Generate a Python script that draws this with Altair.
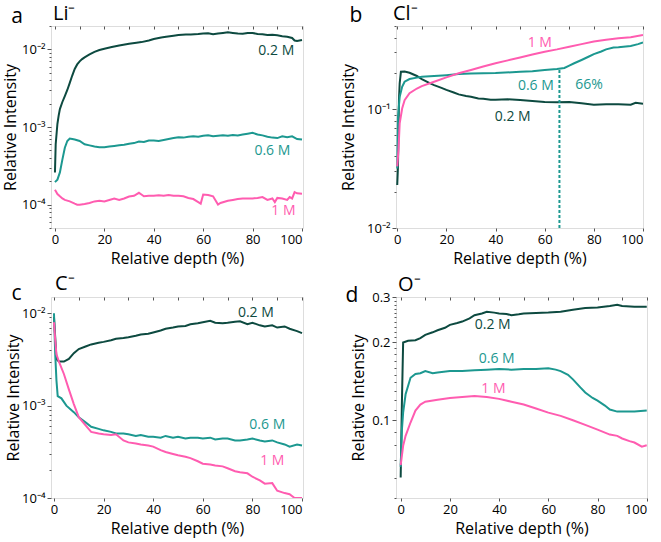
import altair as alt
import pandas as pd

DARK = "#0d4a40"
TEAL = "#1c9890"
PINK = "#ff5cb0"
FONT = "Open Sans"
SERIES = ["0.2 M", "0.6 M", "1 M"]
COLORS = [DARK, TEAL, PINK]

# ---------------- panel a: Li- ----------------
li_x_02 = [0, 0.3, 0.7, 1, 1.5, 2, 3, 4, 5, 6, 7, 8, 9, 10, 11, 12, 14, 16, 18, 20, 23, 26, 30, 33, 35, 38, 40, 43, 45, 48, 50, 53, 55, 58, 60, 62, 64, 66, 68, 70, 72, 74, 76, 78, 80, 82, 84, 86, 88, 90, 92, 94, 96, 97, 98, 100]
li_y_02 = [2.6e-4, 6e-4, 8.5e-4, 1.1e-3, 1.4e-3, 1.7e-3, 2.1e-3, 2.5e-3, 3.0e-3, 3.7e-3, 4.6e-3, 5.6e-3, 6.4e-3, 7.0e-3, 7.5e-3, 7.9e-3, 8.6e-3, 9.3e-3, 9.8e-3, 1.02e-2, 1.07e-2, 1.12e-2, 1.18e-2, 1.22e-2, 1.24e-2, 1.3e-2, 1.36e-2, 1.42e-2, 1.45e-2, 1.5e-2, 1.53e-2, 1.55e-2, 1.56e-2, 1.58e-2, 1.6e-2, 1.61e-2, 1.57e-2, 1.6e-2, 1.63e-2, 1.66e-2, 1.63e-2, 1.6e-2, 1.59e-2, 1.62e-2, 1.63e-2, 1.58e-2, 1.57e-2, 1.53e-2, 1.54e-2, 1.52e-2, 1.48e-2, 1.45e-2, 1.4e-2, 1.3e-2, 1.28e-2, 1.32e-2]
li_x_06 = [0, 1, 2, 3, 4, 5, 6, 7, 8, 10, 12, 14, 16, 18, 20, 22, 24, 26, 28, 30, 32, 34, 36, 38, 40, 42, 44, 46, 48, 50, 52, 54, 56, 58, 60, 62, 64, 66, 68, 70, 72, 74, 76, 78, 80, 82, 84, 86, 88, 90, 92, 94, 96, 98, 100]
li_y_06 = [1.95e-4, 2.1e-4, 2.6e-4, 3.8e-4, 5.4e-4, 6.6e-4, 7.1e-4, 7.0e-4, 6.9e-4, 6.6e-4, 6.0e-4, 5.8e-4, 5.6e-4, 5.5e-4, 5.5e-4, 5.6e-4, 5.7e-4, 5.8e-4, 5.9e-4, 6.1e-4, 6.2e-4, 6.5e-4, 6.4e-4, 6.7e-4, 6.7e-4, 6.6e-4, 6.8e-4, 7.0e-4, 7.2e-4, 7.4e-4, 7.3e-4, 7.5e-4, 7.6e-4, 7.5e-4, 7.7e-4, 7.8e-4, 7.6e-4, 7.7e-4, 7.8e-4, 7.7e-4, 7.9e-4, 7.8e-4, 8.0e-4, 8.2e-4, 8.4e-4, 8.0e-4, 7.8e-4, 7.5e-4, 7.3e-4, 7.2e-4, 7.6e-4, 7.4e-4, 7.6e-4, 7.0e-4, 6.9e-4]
li_x_1 = [0, 1, 2, 3, 4, 6, 8, 9, 10, 12, 14, 16, 18, 20, 22, 24, 26, 28, 30, 32, 34, 35, 36, 38, 40, 42, 44, 46, 48, 50, 52, 54, 56, 58, 59, 60, 62, 64, 66, 67, 70, 72, 74, 76, 78, 80, 82, 84, 86, 88, 89, 90, 92, 94, 95, 96, 97, 98, 100]
li_y_1 = [1.55e-4, 1.37e-4, 1.28e-4, 1.2e-4, 1.15e-4, 1.1e-4, 1.03e-4, 1.0e-4, 1.0e-4, 1.02e-4, 1.05e-4, 1.1e-4, 1.12e-4, 1.1e-4, 1.15e-4, 1.2e-4, 1.15e-4, 1.2e-4, 1.27e-4, 1.3e-4, 1.42e-4, 1.35e-4, 1.28e-4, 1.3e-4, 1.3e-4, 1.32e-4, 1.3e-4, 1.33e-4, 1.3e-4, 1.3e-4, 1.28e-4, 1.22e-4, 1.18e-4, 1.08e-4, 1.03e-4, 1.35e-4, 1.33e-4, 1.28e-4, 1.0e-4, 1.05e-4, 1.12e-4, 1.15e-4, 1.18e-4, 1.2e-4, 1.2e-4, 1.2e-4, 1.22e-4, 1.25e-4, 1.15e-4, 1.2e-4, 1.08e-4, 1.22e-4, 1.2e-4, 1.15e-4, 1.25e-4, 1.2e-4, 1.45e-4, 1.4e-4, 1.38e-4]
li_labels = ["0.2 M", "0.6 M", "1 M"]
li_lab_x = [89.6, 88, 92.5]
li_lab_y = [0.0096, 4.9e-4, 8.3e-5]

# ---------------- panel b: Cl- ----------------
cl_x_02 = [0, 0.3, 0.7, 1, 1.5, 3, 5, 8, 10, 13, 15, 18, 20, 23, 25, 28, 30, 33, 35, 38, 40, 45, 50, 55, 60, 65, 70, 75, 80, 85, 90, 95, 97, 100]
cl_y_02 = [0.023, 0.033, 0.119, 0.165, 0.206, 0.207, 0.202, 0.19, 0.179, 0.166, 0.159, 0.151, 0.145, 0.138, 0.133, 0.129, 0.127, 0.123, 0.122, 0.12, 0.12, 0.121, 0.119, 0.117, 0.115, 0.114, 0.115, 0.112, 0.109, 0.11, 0.11, 0.109, 0.113, 0.111]
cl_x_06 = [0, 0.3, 1, 2, 3, 5, 8, 10, 15, 20, 25, 30, 40, 50, 55, 60, 65, 68, 70, 72, 75, 78, 80, 83, 85, 88, 90, 95, 98, 100]
cl_y_06 = [0.0316, 0.086, 0.127, 0.154, 0.17, 0.179, 0.184, 0.187, 0.19, 0.193, 0.197, 0.199, 0.201, 0.206, 0.208, 0.213, 0.217, 0.222, 0.232, 0.243, 0.259, 0.277, 0.29, 0.305, 0.318, 0.33, 0.332, 0.34, 0.352, 0.363]
cl_x_1 = [0, 0.5, 1, 2, 3, 5, 8, 10, 15, 20, 25, 30, 35, 40, 45, 50, 55, 60, 65, 70, 75, 80, 85, 90, 95, 100]
cl_y_1 = [0.033, 0.045, 0.076, 0.101, 0.119, 0.136, 0.149, 0.156, 0.17, 0.185, 0.2, 0.213, 0.228, 0.243, 0.257, 0.272, 0.288, 0.304, 0.318, 0.335, 0.352, 0.37, 0.383, 0.394, 0.402, 0.42]
cl_labels = ["1 M", "0.6 M", "66%", "0.2 M"]
cl_lab_x = [58, 56.4, 78, 47]
cl_lab_y = [0.363, 0.157, 0.159, 0.086]
cl_lab_s = ["1 M", "0.6 M", "0.6 M", "0.2 M"]
cl_marker_x = [66]
cl_marker_y = [0.01]
cl_marker_y2 = [0.217]

# ---------------- panel c: C- ----------------
c_x_02 = [0, 0.5, 1, 2, 4, 6, 8, 10, 13, 15, 18, 20, 23, 25, 28, 30, 33, 35, 38, 40, 43, 45, 48, 50, 53, 55, 58, 60, 63, 65, 68, 70, 73, 75, 78, 80, 83, 85, 88, 90, 93, 95, 98, 100]
c_y_02 = [9.1e-3, 5.5e-3, 3.2e-3, 3.0e-3, 3.0e-3, 3.2e-3, 3.7e-3, 4.1e-3, 4.4e-3, 4.6e-3, 4.8e-3, 4.9e-3, 5.1e-3, 5.3e-3, 5.4e-3, 5.5e-3, 5.7e-3, 5.9e-3, 6.0e-3, 6.2e-3, 6.5e-3, 6.8e-3, 7.0e-3, 7.2e-3, 7.3e-3, 7.6e-3, 7.8e-3, 8.0e-3, 8.3e-3, 7.9e-3, 7.8e-3, 7.9e-3, 8.1e-3, 8.2e-3, 7.6e-3, 7.9e-3, 7.4e-3, 7.2e-3, 7.4e-3, 7.0e-3, 7.2e-3, 6.8e-3, 6.4e-3, 6.1e-3]
c_x_06 = [0, 0.5, 1, 1.5, 3, 5, 8, 10, 13, 15, 18, 20, 23, 25, 28, 30, 33, 35, 38, 40, 43, 45, 48, 50, 53, 55, 58, 60, 63, 65, 68, 70, 73, 75, 78, 80, 83, 85, 88, 90, 93, 95, 98, 100]
c_y_06 = [1.0e-2, 3.6e-3, 1.87e-3, 1.27e-3, 1.2e-3, 1.0e-3, 8.5e-4, 7.5e-4, 6.5e-4, 5.9e-4, 5.6e-4, 5.4e-4, 5.2e-4, 5.0e-4, 5.0e-4, 4.9e-4, 4.7e-4, 4.8e-4, 4.6e-4, 4.6e-4, 4.5e-4, 4.7e-4, 4.5e-4, 4.6e-4, 4.4e-4, 4.5e-4, 4.5e-4, 4.4e-4, 4.5e-4, 4.3e-4, 4.4e-4, 4.4e-4, 4.2e-4, 4.2e-4, 4.3e-4, 4.4e-4, 4.2e-4, 4.1e-4, 4.2e-4, 4.0e-4, 3.8e-4, 3.6e-4, 3.8e-4, 3.7e-4]
c_x_1 = [0, 0.5, 1, 2, 4, 6, 8, 10, 13, 15, 18, 20, 23, 25, 28, 30, 33, 35, 38, 40, 43, 45, 48, 50, 53, 55, 58, 60, 63, 65, 68, 70, 73, 75, 78, 80, 83, 85, 88, 90, 93, 95, 97, 100]
c_y_1 = [8e-3, 5.1e-3, 3.6e-3, 3.0e-3, 2.2e-3, 1.5e-3, 1.04e-3, 7.5e-4, 6.0e-4, 5.2e-4, 5.0e-4, 4.9e-4, 4.8e-4, 4.9e-4, 4.2e-4, 4.0e-4, 3.9e-4, 3.8e-4, 3.7e-4, 3.6e-4, 3.3e-4, 3.15e-4, 3.0e-4, 2.9e-4, 2.8e-4, 2.7e-4, 2.5e-4, 2.35e-4, 2.3e-4, 2.25e-4, 2.2e-4, 2.1e-4, 1.95e-4, 1.9e-4, 1.85e-4, 1.7e-4, 1.55e-4, 1.43e-4, 1.45e-4, 1.2e-4, 1.13e-4, 1.1e-4, 1.0e-4, 1.0e-4]
c_labels = ["0.2 M", "0.6 M", "1 M"]
c_lab_x = [81.4, 86, 88]
c_lab_y = [0.0100, 6.1e-4, 2.5e-4]

# ---------------- panel d: O- ----------------
o_x_02 = [0, 0.5, 1, 3, 6, 8, 10, 13, 15, 18, 20, 23, 25, 28, 30, 33, 35, 38, 40, 43, 45, 48, 50, 55, 60, 65, 70, 75, 80, 85, 88, 90, 95, 100]
o_y_02 = [0.060, 0.117, 0.2, 0.203, 0.204, 0.208, 0.214, 0.219, 0.223, 0.228, 0.234, 0.238, 0.241, 0.248, 0.255, 0.259, 0.263, 0.261, 0.259, 0.258, 0.255, 0.257, 0.259, 0.260, 0.261, 0.263, 0.268, 0.272, 0.273, 0.277, 0.28, 0.277, 0.275, 0.275]
o_x_06 = [0, 0.5, 1, 2, 4, 6, 8, 10, 13, 15, 20, 25, 30, 35, 40, 45, 50, 55, 60, 63, 65, 68, 70, 73, 75, 78, 80, 83, 85, 88, 90, 95, 100]
o_y_06 = [0.066, 0.092, 0.107, 0.126, 0.146, 0.151, 0.152, 0.155, 0.152, 0.153, 0.155, 0.155, 0.156, 0.157, 0.158, 0.157, 0.158, 0.158, 0.159, 0.157, 0.155, 0.150, 0.144, 0.134, 0.128, 0.122, 0.119, 0.114, 0.110, 0.108, 0.108, 0.108, 0.109]
o_x_1 = [0, 0.5, 1, 2, 4, 6, 8, 10, 15, 20, 25, 30, 35, 40, 45, 50, 55, 60, 65, 70, 75, 80, 85, 88, 90, 93, 95, 98, 100]
o_y_1 = [0.067, 0.073, 0.0796, 0.087, 0.098, 0.109, 0.115, 0.118, 0.12, 0.122, 0.123, 0.124, 0.123, 0.121, 0.118, 0.115, 0.111, 0.107, 0.104, 0.1, 0.096, 0.092, 0.088, 0.087, 0.085, 0.083, 0.082, 0.079, 0.080]
o_labels = ["0.2 M", "0.6 M", "1 M"]
o_lab_x = [37.4, 39, 37.7]
o_lab_y = [0.234, 0.173, 0.132]

# y-axis tick values (majors + minors)
decade_ticks = [m * 10.0 ** e for e in (-5, -4, -3, -2, -1) for m in range(1, 10)]
o_ticks = [round(0.05 + 0.01 * i, 2) for i in range(26)]

color_scale = alt.Scale(domain=SERIES, range=COLORS)


def series_df(xs, ys, names):
    rows = []
    for x, y, n in zip(xs, ys, names):
        for xi, yi in zip(x, y):
            rows.append({"x": xi, "y": yi, "s": n})
    return pd.DataFrame(rows)


def sup_label_expr():
    return ("abs(datum.value-0.1)<1e-12 ? '10⁻¹' : abs(datum.value-0.01)<1e-12 ? '10⁻²' : "
            "abs(datum.value-0.001)<1e-12 ? '10⁻³' : abs(datum.value-0.0001)<1e-12 ? '10⁻⁴' : ''")


def panel(df, lab_df, xdom, ydom, yvals, major_test, label_expr, w, h,
          letter, lpos, species, spos, ytitle_x, xtitle_y, marker_df=None):
    x_axis = alt.Axis(values=[0, 20, 40, 60, 80, 100], title="Relative depth (%)",
                      grid=False, tickSize=3, labelPadding=2, labelFontSize=13,
                      titleFontSize=16, titleFontWeight="normal", titleY=xtitle_y,
                      titleBaseline="middle", domain=False, labelColor="black", titleColor="black",
                      tickColor="#555")
    y_axis = alt.Axis(values=yvals, labelExpr=label_expr, title="Relative Intensity",
                      grid=False, labelOverlap=False, labelFontSize=13, labelPadding=2,
                      tickSize={"condition": {"test": major_test, "value": 4}, "value": 2},
                      titleFontSize=16, titleFontWeight="normal", titleX=ytitle_x, titleY=h / 2,
                      titleBaseline="middle", domain=False, labelColor="black", titleColor="black",
                      tickColor="#555")
    xs = alt.Scale(domain=xdom, nice=False, zero=False)
    ys = alt.Scale(type="log", domain=ydom, nice=False)
    lines = alt.Chart(df).mark_line(strokeWidth=2, clip=True).encode(
        x=alt.X("x:Q", scale=xs, axis=x_axis),
        y=alt.Y("y:Q", scale=ys, axis=y_axis),
        color=alt.Color("s:N", scale=color_scale, legend=None),
        detail="s:N",
    )
    top = alt.Chart(df).mark_line(opacity=0).encode(
        x=alt.X("x:Q", scale=xs, axis=alt.Axis(orient="top", values=list(range(0, 101, 10)),
                                                labels=False, title=None, grid=False, domain=False,
                                                tickSize=3, offset=-3, tickColor="#555")),
        y=alt.Y("y:Q", scale=ys, axis=None),
    )
    texts = alt.Chart(lab_df).mark_text(fontSize=14, font=FONT, align="center", baseline="middle").encode(
        x=alt.X("x:Q", scale=xs, axis=None),
        y=alt.Y("y:Q", scale=ys, axis=None),
        text="t:N",
        color=alt.Color("s:N", scale=color_scale, legend=None),
    )
    head = pd.DataFrame({"t": [letter, species]})
    let = alt.Chart(head.iloc[[0]]).mark_text(fontSize=21, font=FONT, align="center",
                                              baseline="alphabetic", color="black").encode(
        x=alt.value(lpos[0]), y=alt.value(lpos[1]), text="t:N")
    spc = alt.Chart(head.iloc[[1]]).mark_text(fontSize=20, font=FONT, align="left",
                                              baseline="alphabetic", color="black").encode(
        x=alt.value(spos[0]), y=alt.value(spos[1]), text="t:N")
    layers = [lines, top, texts, let, spc]
    if marker_df is not None:
        marker = alt.Chart(marker_df).mark_rule(color=TEAL, strokeWidth=2, strokeDash=[3, 2]).encode(
            x=alt.X("x:Q", scale=xs, axis=None),
            y=alt.Y("y:Q", scale=ys, axis=None),
            y2="y2:Q")
        layers.insert(1, marker)
    return alt.layer(*layers).resolve_axis(x="independent", y="independent").properties(width=w, height=h)


# data frames
df_a = series_df([li_x_02, li_x_06, li_x_1], [li_y_02, li_y_06, li_y_1], SERIES)
lab_a = pd.DataFrame({"x": li_lab_x, "y": li_lab_y, "t": li_labels, "s": li_labels})
df_b = series_df([cl_x_02, cl_x_06, cl_x_1], [cl_y_02, cl_y_06, cl_y_1], SERIES)
lab_b = pd.DataFrame({"x": cl_lab_x, "y": cl_lab_y, "t": cl_labels, "s": cl_lab_s})
mk_b = pd.DataFrame({"x": cl_marker_x, "y": cl_marker_y, "y2": cl_marker_y2})
df_c = series_df([c_x_02, c_x_06, c_x_1], [c_y_02, c_y_06, c_y_1], SERIES)
lab_c = pd.DataFrame({"x": c_lab_x, "y": c_lab_y, "t": c_labels, "s": c_labels})
df_d = series_df([o_x_02, o_x_06, o_x_1], [o_y_02, o_y_06, o_y_1], SERIES)
lab_d = pd.DataFrame({"x": o_lab_x, "y": o_lab_y, "t": o_labels, "s": o_labels})

decade_test = "abs(log(datum.value)/LN10 - round(log(datum.value)/LN10)) < 1e-6"
o_test = "abs(datum.value*10 - round(datum.value*10)) < 1e-6"

pa = panel(df_a, lab_a, [-1.6, 100.4], [5e-5, 2e-2], [v for v in decade_ticks if 5e-5 <= v <= 2e-2],
           decade_test, sup_label_expr(), 252, 202, "a", (-34, -3), "Li⁻", (2, -6), -41, 30)

pb = panel(df_b, lab_b, [-0.5, 100], [0.01, 0.5], [v for v in decade_ticks if 0.01 <= v <= 0.5],
           decade_test, sup_label_expr(), 247, 202, "b", (-40, -4), "Cl⁻", (-3, -6), -48, 30, marker_df=mk_b)

pc = panel(df_c, lab_c, [-1.2, 100.4], [1e-4, 0.015], [v for v in decade_ticks if 1e-4 <= v <= 0.015],
           decade_test, sup_label_expr(), 252, 201, "c", (-34.5, 3), "C⁻", (4, -7), -38, 30.5)

o_expr = "abs(datum.value-0.1)<1e-9 ? '0.1' : abs(datum.value-0.2)<1e-9 ? '0.2' : abs(datum.value-0.3)<1e-9 ? '0.3' : ''"
pd_ = panel(df_d, lab_d, [-1.9, 100.1], [0.05, 0.3], o_ticks, o_test, o_expr,
            251, 201, "d", (-44, 4.7), "O⁻", (2, -6.3), -38, 30.5)

chart = alt.concat(pa, pb, pc, pd_, columns=2, spacing={"row": 69, "column": 93}, bounds="flush").properties(
    autosize=alt.AutoSizeParams(type="none"),
    padding={"left": 51, "top": 26, "right": 610, "bottom": 516},
).configure_view(stroke="#808080", strokeWidth=1.3).configure(
    font=FONT,
).configure_axis(labelFont=FONT, titleFont=FONT)

chart.save("out.html", embed_options={"renderer": "svg", "actions": False})
